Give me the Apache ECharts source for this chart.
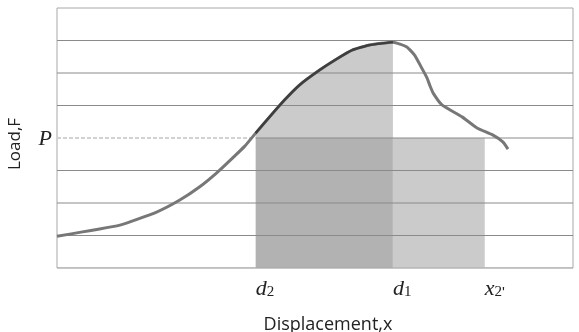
<!DOCTYPE html>
<html>
<head>
<meta charset="utf-8">
<script src="https://cdn.jsdelivr.net/npm/echarts@6/dist/echarts.min.js"></script>
<style>html,body{margin:0;padding:0;background:#fff}#c{width:579px;height:332px}</style>
</head>
<body>
<div id="c"></div>
<script>
// ---- data ----
const curveX = [0, 12.2, 19.3, 23.8, 27.6, 30.9, 33.8, 36.4, 38.5, 41.2, 44.1, 47.0, 50.9, 54.2, 57.3, 60.6, 65.1, 67.8, 69.3, 70.7, 71.7, 72.3, 72.9, 74.6, 78.5, 81.4, 84.5, 86.4, 87.4];
const curveY = [0.98, 1.32, 1.72, 2.09, 2.49, 2.92, 3.35, 3.75, 4.15, 4.65, 5.17, 5.63, 6.09, 6.43, 6.71, 6.86, 6.95, 6.80, 6.55, 6.15, 5.85, 5.60, 5.38, 5.02, 4.65, 4.31, 4.09, 3.88, 3.66];
const loadP = 4;
const d2 = 38.5;
const d1 = 65.1;
const x2p = 82.9;
const xTickValues = [d2, d1, x2p];
const xTickLabels = ['{i|d}{s|2}', '{i|d}{s|1}', "{i|x}{s|2}{a|'}"];
const yTickValues = [loadP];
const yTickLabels = ['{i|P}'];
const yGridValues = [0, 1, 2, 3, 4, 5, 6, 7];
const xMin = 0, xMax = 100, yMin = 0, yMax = 8;
const xName = 'Displacement,x';
const yName = 'Load,F';

// ---- derived ----
const curve = curveX.map((x, i) => [x, curveY[i]]);
const segment = curve.filter(p => p[0] >= d2 && p[0] <= d1);
const pLine = [[xMin, loadP], [d2, loadP]];

const mathRich = {
  i: { fontFamily: 'Liberation Serif', fontStyle: 'italic', fontSize: 22, color: '#222', verticalAlign: 'bottom', lineHeight: 24 },
  s: { fontFamily: 'Liberation Serif', fontSize: 15, color: '#222', verticalAlign: 'bottom', lineHeight: 10 },
  a: { fontFamily: 'Liberation Sans', fontSize: 15, color: '#222', verticalAlign: 'bottom', lineHeight: 24 }
};

const flat = { showSymbol: false, silent: true, lineStyle: { width: 0 }, zlevel: 0 };

const gridSeries = yGridValues.map(v => ({
  type: 'line', zlevel: 1, z: 3, showSymbol: false, silent: true,
  data: [[xMin, v], [xMax, v]],
  lineStyle: { color: v === yMin ? '#a8a8a8' : '#8a8a8a', width: 1 }
}));

const chart = echarts.init(document.getElementById('c'), null, { renderer: 'canvas' });
chart.setOption({
  animation: false,
  grid: { left: 57, right: 6, top: 8, bottom: 64, outerBoundsMode: 'none', containLabel: false,
          show: true, borderColor: '#a8a8a8', borderWidth: 1, backgroundColor: '#fff' },
  xAxis: {
    type: 'value', min: xMin, max: xMax,
    axisLine: { show: false }, axisTick: { show: false }, splitLine: { show: false },
    axisLabel: {
      customValues: xTickValues,
      formatter: v => xTickLabels[xTickValues.indexOf(v)],
      align: 'left', margin: 8, rich: mathRich
    },
    name: xName, nameLocation: 'middle', nameGap: 48,
    nameTextStyle: { fontFamily: 'Open Sans', fontSize: 18, color: '#222', padding: [0, 0, 0, 26] }
  },
  yAxis: {
    type: 'value', min: yMin, max: yMax, interval: 1,
    axisLine: { show: false }, axisTick: { show: false },
    splitLine: { show: false },
    axisLabel: {
      customValues: yTickValues,
      formatter: v => yTickLabels[yTickValues.indexOf(v)],
      margin: 5, rich: mathRich
    },
    name: yName, nameLocation: 'middle', nameGap: 33,
    nameTextStyle: { fontFamily: 'Open Sans', fontSize: 17, color: '#222', padding: [0, 12, 0, 0] }
  },
  series: [
    // dark rectangle d2..d1 below P
    Object.assign({ type: 'line', z: 1, data: [[d2, loadP], [d1, loadP]],
      areaStyle: { color: '#b2b2b2', opacity: 1, origin: yMin } }, flat),
    // light rectangle d1..x2' below P
    Object.assign({ type: 'line', z: 1, data: [[d1, loadP], [x2p, loadP]],
      areaStyle: { color: '#cbcbcb', opacity: 1, origin: yMin } }, flat),
    // light area under the curve above P between d2 and d1
    Object.assign({ type: 'line', z: 1, data: segment, smooth: 0.15,
      areaStyle: { color: '#cbcbcb', opacity: 1, origin: loadP } }, flat),
    ...gridSeries,
    {
      type: 'line', zlevel: 1, z: 4, data: pLine, showSymbol: false, silent: true,
      lineStyle: { color: '#ffffff', width: 2 }
    },
    {
      type: 'line', zlevel: 1, z: 5, data: pLine, showSymbol: false, silent: true,
      lineStyle: { color: '#a4a4a4', width: 1, type: [4, 2] }
    },
    {
      type: 'line', zlevel: 1, z: 6, data: curve, showSymbol: false, smooth: 0.15,
      lineStyle: { color: '#777777', width: 3 }
    },
    {
      type: 'line', zlevel: 1, z: 7, data: segment, showSymbol: false, smooth: 0.15,
      lineStyle: { color: '#3e3e3e', width: 2.5 }
    }
  ]
});
</script>
</body>
</html>
